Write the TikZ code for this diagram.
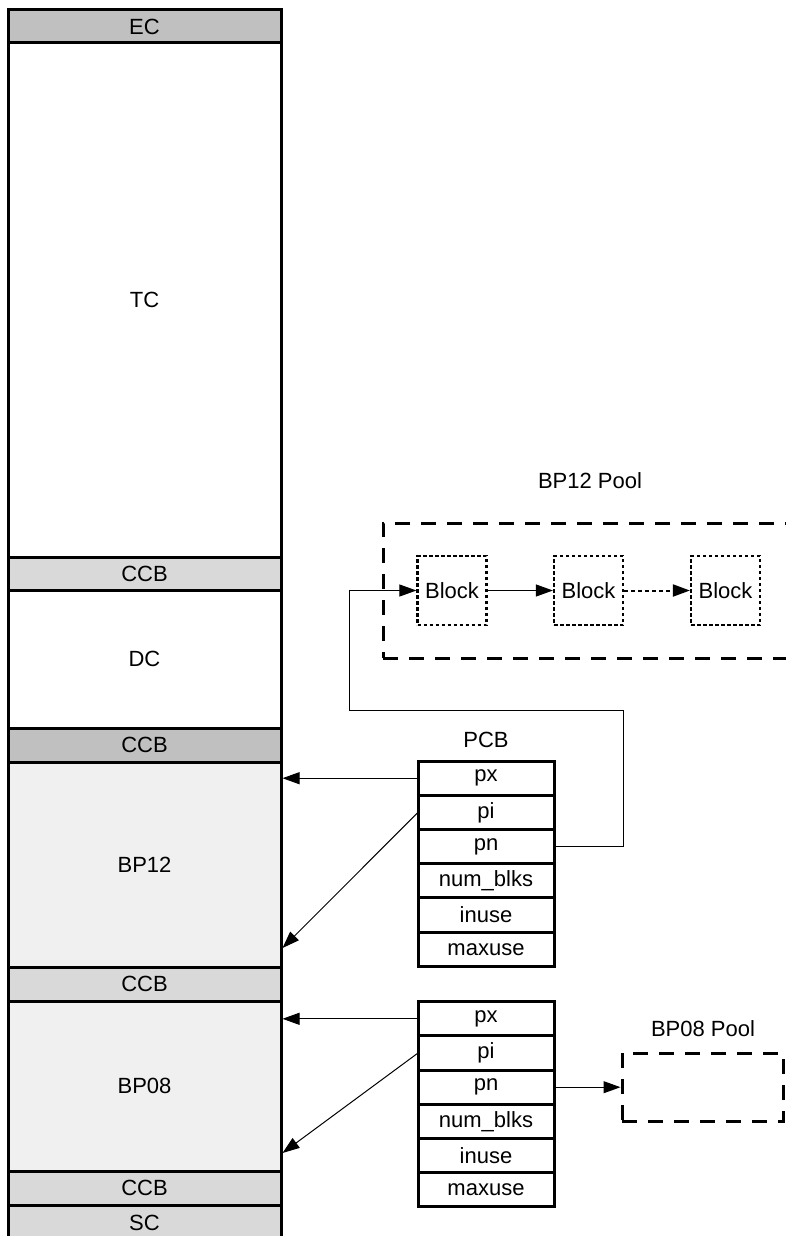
\documentclass[tikz,border=0pt]{standalone}
\usepackage{fontspec}
\setmainfont{Liberation Sans}
\usepackage{tikz}
\usetikzlibrary{arrows.meta, positioning}
\definecolor{CapGray}{RGB}{192,192,192}
\definecolor{CcbGray}{RGB}{217,217,217}
\definecolor{PoolGray}{RGB}{240,240,240}

\begin{document}
\begin{tikzpicture}[x=1pt, y=-1pt,
    every node/.style={font=\fontsize{22}{26}\selectfont},
    memcell/.style={draw, line width=3pt, minimum width=273pt, inner sep=0pt},
    field/.style={draw, line width=3pt, minimum width=136pt, minimum height=34.2pt,
                  inner sep=0pt, outer sep=0pt},
    blockbox/.style={draw, line width=2.2pt, dash pattern=on 3.5pt off 2.5pt,
                     minimum width=69pt, minimum height=69pt, inner sep=0pt},
    poolbox/.style={draw, line width=3pt, dash pattern=on 15pt off 11pt, inner sep=0pt},
    ptr/.style={line width=1pt, -{Triangle[length=17pt, width=12pt]}}]

    \useasboundingbox (0,0) rectangle (786,1236);

    % Memory column
    \node[memcell, fill=CapGray, minimum height=33pt] (ec) at (144.5,26.5) {EC};
    \node[memcell, minimum height=514pt] (tc) at (144.5,300) {TC};
    \node[memcell, fill=CcbGray, minimum height=33pt] (ccbA) at (144.5,573.5) {CCB};
    \node[memcell, minimum height=138pt] (dc) at (144.5,659) {DC};
    \node[memcell, fill=CapGray, minimum height=34pt] (ccbB) at (144.5,745) {CCB};
    \node[memcell, fill=PoolGray, minimum height=205pt] (bp12) at (144.5,864.5) {BP12};
    \node[memcell, fill=CcbGray, minimum height=34pt] (ccbC) at (144.5,984) {CCB};
    \node[memcell, fill=PoolGray, minimum height=170pt] (bp08) at (144.5,1086) {BP08};
    \node[memcell, fill=CcbGray, minimum height=34pt] (ccbD) at (144.5,1188) {CCB};
    \node[memcell, fill=CcbGray, minimum height=35pt] (sc) at (144.5,1222.5) {SC};

    % PCB for BP12
    \node (pcbtitle) at (486,740) {PCB};
    \node[field] (px1) at (486,778.2) {px};
    \node[field, below=0pt of px1] (pi1) {pi};
    \node[field, below=0pt of pi1] (pn1) {pn};
    \node[field, below=0pt of pn1] (nb1) {num\_blks};
    \node[field, below=0pt of nb1] (iu1) {inuse};
    \node[field, below=0pt of iu1] (mu1) {maxuse};

    % PCB for BP08
    \node[field] (px2) at (486,1018.8) {px};
    \node[field, below=0pt of px2] (pi2) {pi};
    \node[field, below=0pt of pi2] (pn2) {pn};
    \node[field, below=0pt of pn2] (nb2) {num\_blks};
    \node[field, below=0pt of nb2] (iu2) {inuse};
    \node[field, below=0pt of iu2] (mu2) {maxuse};

    % BP12 pool
    \node (pool12title) at (590,481) {BP12 Pool};
    \node[poolbox, minimum width=427pt, minimum height=135pt] (pool12) at (596.5,590.5) {};
    \node[blockbox] (blk1) at (452,590.5) {Block};
    \node[blockbox] (blk2) at (588.5,590.5) {Block};
    \node[blockbox] (blk3) at (725.5,590.5) {Block};

    % BP08 pool
    \node (pool08title) at (703,1029) {BP08 Pool};
    \node[poolbox, minimum width=161pt, minimum height=68pt] (pool08) at (702.5,1087) {};

    \coordinate (upR) at (623,710);
    \coordinate (upL) at (349,710);
    \coordinate (pi1tip) at (282.5,948);
    \coordinate (pi2tip) at (282.5,1153);

    % Pointers
    \draw[ptr] (px1.west) -- (px1.west -| bp12.east);
    \draw[ptr] (pi1.west) -- (pi1tip);
    \draw[ptr] (pn1.east) -| (upR) -- (upL) |- (blk1.west);
    \draw[ptr] (blk1.east) -- (blk2.west);
    \draw[ptr, line width=2pt, dash pattern=on 4pt off 3pt] (blk2.east) -- (blk3.west);

    \draw[ptr] (px2.west) -- (px2.west -| bp08.east);
    \draw[ptr] (pi2.west) -- (pi2tip);
    \draw[ptr] (pn2.east) -- (pn2.east -| pool08.west);
  \end{tikzpicture}
\end{document}
